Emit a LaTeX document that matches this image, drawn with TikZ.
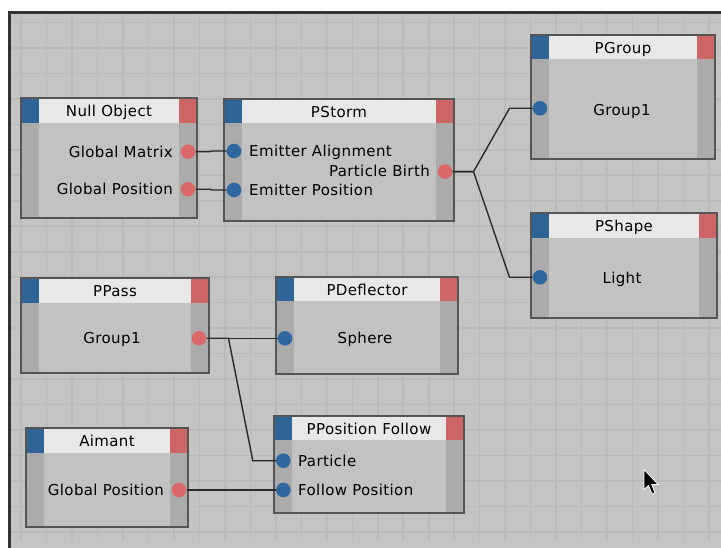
\documentclass[tikz,border=0pt]{standalone}
\usepackage{fontspec}
\setmainfont[LetterSpace=2.5]{DejaVu Sans}
\usetikzlibrary{calc}
\definecolor{bgc}{HTML}{C4C4C4}
\definecolor{gridc}{HTML}{BABABA}
\definecolor{framec}{HTML}{333333}
\definecolor{bodyc}{HTML}{C2C2C2}
\definecolor{stripc}{HTML}{ABABAB}
\definecolor{headc}{HTML}{E8E8E8}
\definecolor{hblue}{HTML}{2F6596}
\definecolor{hred}{HTML}{CD6565}
\definecolor{pblue}{HTML}{2F68A0}
\definecolor{pred}{HTML}{DA6868}
\definecolor{borderc}{HTML}{555555}
\definecolor{wirec}{HTML}{2A2A2A}
\tikzset{
  xbody/.style={draw=none, fill=bodyc, inner sep=0pt, outer sep=0pt},
  lbl/.style={font=\fontsize{15}{18}\selectfont, inner sep=0pt, text height=11pt, text depth=0pt, text=black},
  inport/.style={circle, fill=pblue, draw=none, minimum size=14.6pt, inner sep=0pt},
  outport/.style={circle, fill=pred, draw=none, minimum size=14.6pt, inner sep=0pt},
  wire/.style={draw=wirec, line width=1.4pt},
  gridline/.style={draw=gridc, line width=1.6pt},
}
% name, x, y, w, h, header height, title
\newcommand\xbox[7]{%
  \node[xbody, minimum width=#4pt, minimum height=#5pt, anchor=north west] (#1) at (#2,#3) {};
  \fill[stripc] (#2,#3) rectangle ++(18,#5);
  \fill[stripc] ({#2+#4-18},#3) rectangle ++(18,#5);
  \fill[headc] ({#2+18},#3) rectangle ({#2+#4-18},{#3+#6});
  \fill[hblue] (#2,#3) rectangle ++(18,#6);
  \fill[hred] ({#2+#4-18},#3) rectangle ++(18,#6);
  \node[lbl] (#1-title) at ({#2+#4/2},{#3+#6/2+0.5}) {#7};
  \draw[borderc, line width=1.6pt] (#1.north west) rectangle (#1.south east);
}
\begin{document}
\begin{tikzpicture}[x=1pt,y=-1pt]
\useasboundingbox (0,0) rectangle (721,548);
\fill[white] (0,0) rectangle (721,548);
\fill[bgc] (11,14) rectangle (721,548);
% grid
\foreach \i in {0,...,27} \draw[gridline] ({21.2+\i*25.47},14) -- ++(0,526);
\foreach \j in {0,...,20} \draw[gridline] (11,{22.4+\j*25.48}) -- (721,{22.4+\j*25.48});
% frame
\fill[framec] (8,11) rectangle (721,14);
\fill[framec] (8,11) rectangle (11,548);

% boxes
\xbox{nullobj}{21}{98}{176}{120}{25}{Null Object}
\xbox{pstorm}{224}{99}{230}{122}{24.5}{PStorm}
\xbox{pgroup}{531}{35}{184}{124}{24.5}{PGroup}
\xbox{pshape}{531}{213}{186}{105}{25}{PShape}
\xbox{ppass}{21}{278}{188}{95}{25}{PPass}
\xbox{pdefl}{276}{277}{182}{97}{24.5}{PDeflector}
\xbox{aimant}{26}{428}{162}{99}{24.5}{Aimant}
\xbox{ppf}{274}{416}{190}{97}{24}{PPosition Follow}

% ports and labels
\node[outport] (nullobj-gm) at (188,151.7) {};
\node[outport] (nullobj-gp) at (188,189.3) {};
\node[lbl, anchor=east] (nullobj-gm-l) at (173,151.7) {Global Matrix};
\node[lbl, anchor=east] (nullobj-gp-l) at (173,189.3) {Global Position};

\node[inport] (pstorm-ea) at (234,151) {};
\node[inport] (pstorm-ep) at (234,190) {};
\node[outport] (pstorm-pb) at (445,171.7) {};
\node[lbl, anchor=west] (pstorm-ea-l) at (249,151) {Emitter Alignment};
\node[lbl, anchor=west] (pstorm-ep-l) at (249,190) {Emitter Position};
\node[lbl, anchor=east] (pstorm-pb-l) at (430,171.5) {Particle Birth};

\node[inport] (pgroup-in) at (540,108.3) {};
\node[lbl] (pgroup-l) at (622,110) {Group1};

\node[inport] (pshape-in) at (540,277.3) {};
\node[lbl] (pshape-l) at (622,278) {Light};

\node[outport] (ppass-out) at (199,338.3) {};
\node[lbl] (ppass-l) at (112,338) {Group1};

\node[inport] (pdefl-in) at (285,338.3) {};
\node[lbl] (pdefl-l) at (365,338) {Sphere};

\node[outport] (aimant-out) at (179,490) {};
\node[lbl, anchor=east] (aimant-l) at (164,490) {Global Position};

\node[inport] (ppf-p) at (283.3,460.7) {};
\node[inport] (ppf-f) at (283.3,490) {};
\node[lbl, anchor=west] (ppf-p-l) at (298,460.7) {Particle};
\node[lbl, anchor=west] (ppf-f-l) at (298,490) {Follow Position};

% wires
\draw[wire] (nullobj-gm.east) -- ++(15,0) -- ([xshift=-15pt]pstorm-ea.west) -- (pstorm-ea.west);
\draw[wire] (nullobj-gp.east) -- ++(15,0) -- ([xshift=-15pt]pstorm-ep.west) -- (pstorm-ep.west);
\draw[wire] (pstorm-pb.east) -- ++(21,0) -- ([xshift=-23pt]pgroup-in.west) -- (pgroup-in.west);
\draw[wire] (pstorm-pb.east) -- ++(21,0) -- ([xshift=-23pt]pshape-in.west) -- (pshape-in.west);
\draw[wire] (ppass-out.east) -- (pdefl-in.west);
\draw[wire] (ppass-out.east) -- ++(22,0) -- ([xshift=-23pt]ppf-p.west) -- (ppf-p.west);
\draw[wire] (aimant-out.east) -- (ppf-f.west);

% mouse cursor
\filldraw[fill=black, draw=white, line width=0.8pt, line join=miter]
  (644,469.5) -- ++(0,20) -- ++(4.5,-4) -- ++(3.5,8.5) -- ++(3,-1.2) -- ++(-3.3,-8.3) -- ++(6.5,0) -- cycle;
\end{tikzpicture}
\end{document}
